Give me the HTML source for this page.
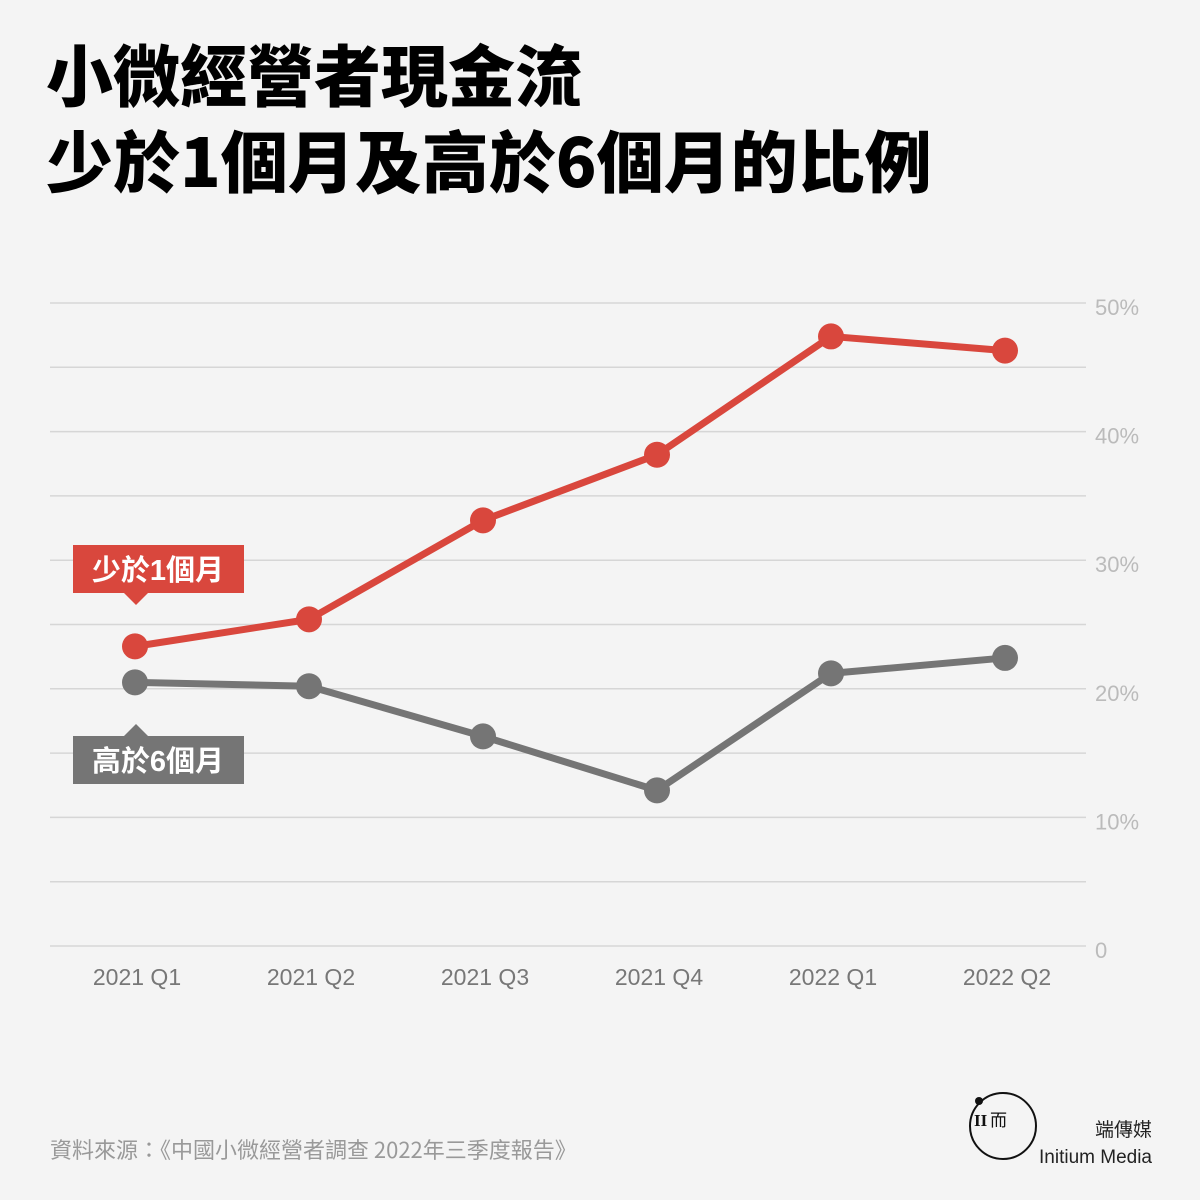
<!DOCTYPE html>
<html><head><meta charset="utf-8"><style>
body{margin:0;background:#f4f4f4;font-family:"Liberation Sans","Noto Sans CJK TC",sans-serif;}
#c{position:relative;width:1200px;height:1200px;overflow:hidden;background:#f4f4f4;}
h1{position:absolute;left:46px;top:30px;margin:0;font-family:"Noto Sans CJK TC",sans-serif;font-weight:900;font-size:67px;line-height:86px;color:#000;letter-spacing:0px;white-space:nowrap;}
</style></head><body>
<div id="c">
<h1>小微經營者現金流<br>少於1個月及高於6個月的比例</h1>
<svg id="s" width="1200" height="1200" style="position:absolute;left:0;top:0"></svg>
<div style="position:absolute;left:50px;top:1133px;font-size:22px;color:#999;font-family:'Noto Sans CJK TC',sans-serif;">資料來源：《中國小微經營者調查 2022年三季度報告》</div>
<svg width="80" height="80" style="position:absolute;left:965px;top:1088px">
<circle cx="38" cy="38" r="33" fill="none" stroke="#111" stroke-width="2"/><circle cx="14" cy="13" r="4" fill="#111"/>
<text x="9" y="38" font-size="17" font-weight="bold" font-family="Liberation Serif" fill="#111">II</text>
<text x="25" y="38" font-size="17" font-family="Noto Sans CJK TC" fill="#111">而</text></svg>
<div style="position:absolute;right:48px;top:1115px;text-align:right;color:#222;font-size:19px;line-height:27px;font-family:'Noto Sans CJK TC',sans-serif;">端傳媒<br><span style="font-family:'Liberation Sans'">Initium Media</span></div>
</div>
<script>
const categories=["2021 Q1","2021 Q2","2021 Q3","2021 Q4","2022 Q1","2022 Q2"];
const under1=[23.3,25.4,33.1,38.2,47.4,46.3];
const over6=[20.5,20.2,16.3,12.1,21.2,22.4];
const yTicks=[0,10,20,30,40,50];
const yTickLabels=["0","10%","20%","30%","40%","50%"];
const NS="http://www.w3.org/2000/svg",s=document.getElementById('s');
const x=i=>135+i*174,y=v=>946-v*12.86;
function el(t,a){const e=document.createElementNS(NS,t);for(const k in a)e.setAttribute(k,a[k]);s.appendChild(e);return e;}
for(let v=0;v<=50;v+=5){const g=el('line',{x1:50,x2:1086,y1:y(v),y2:y(v),stroke:'#d6d6d6','stroke-width':1.5});

}
yTicks.forEach((v,i)=>{const t=el('text',{x:1095,y:y(v)+12,'font-size':22,fill:'#bbb','font-family':'Liberation Sans'});t.textContent=yTickLabels[i];

});
categories.forEach((c,i)=>{const t=el('text',{x:x(i)+2,y:985,'font-size':23,fill:'#777','text-anchor':'middle','font-family':'Liberation Sans'});t.textContent=c;

});
function series(d,col,name){const l=el('polyline',{points:d.map((v,i)=>x(i)+','+y(v)).join(' '),fill:'none',stroke:col,'stroke-width':7,'stroke-linejoin':'round'});


d.forEach((v,i)=>{const p=el('circle',{cx:x(i),cy:y(v),r:13,fill:col});

});}
series(over6,'#757575','over-6-months');
series(under1,'#d9473d','under-1-month');
function label(txt,col,top,ptrUp,name){const g=el('g',{});
const r=document.createElementNS(NS,'rect');r.setAttribute('x',73);r.setAttribute('y',top);r.setAttribute('width',171);r.setAttribute('height',48);r.setAttribute('fill',col);g.appendChild(r);
const p=document.createElementNS(NS,'polygon');p.setAttribute('points',ptrUp?`124,${top} 136,${top-12} 148,${top}`:`124,${top+48} 136,${top+60} 148,${top+48}`);p.setAttribute('fill',col);g.appendChild(p);
const t=document.createElementNS(NS,'text');t.setAttribute('x',158);t.setAttribute('y',top+35);t.setAttribute('text-anchor','middle');t.setAttribute('font-size',29);t.setAttribute('font-weight','bold');t.setAttribute('fill','#fff');t.setAttribute('font-family','Liberation Sans, Noto Sans CJK TC, sans-serif');t.textContent=txt;g.appendChild(t);}
label('少於1個月','#d9473d',545,false,'under-1-month-label');
label('高於6個月','#757575',736,true,'over-6-months-label');
</script>
</body></html>
